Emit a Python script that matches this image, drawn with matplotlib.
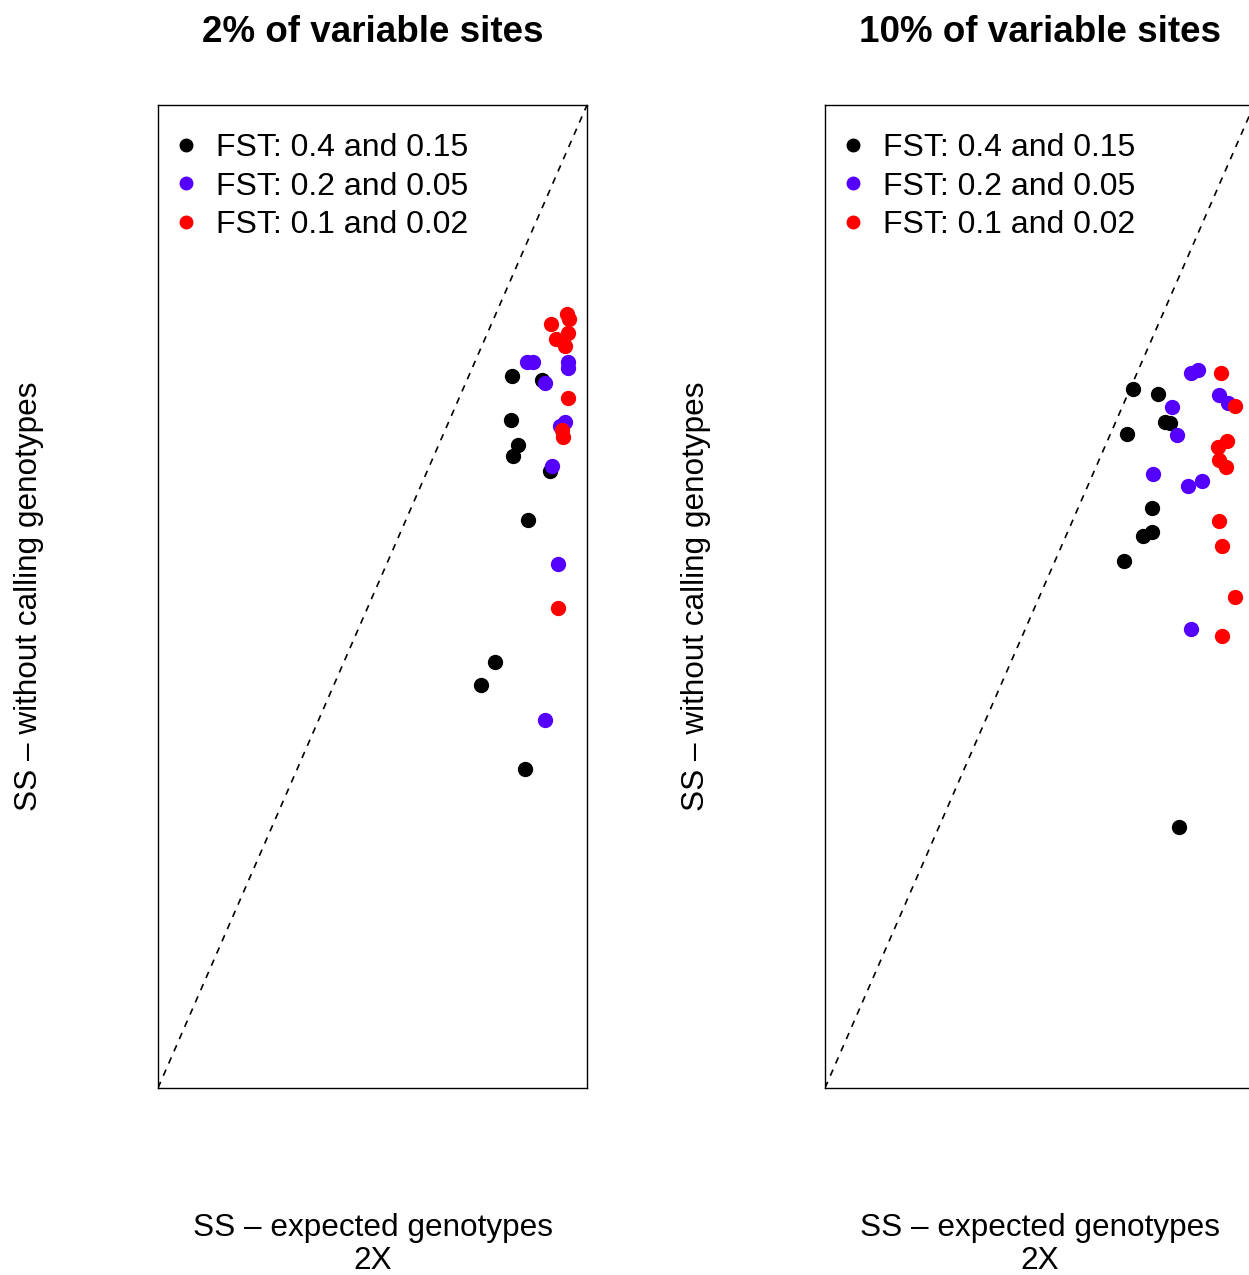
import numpy as np
import matplotlib.pyplot as plt

plt.rcParams['font.family'] = ['Liberation Sans', 'DejaVu Sans']

# Values (arbitrary units, same scale on both axes)
labels = ['FST: 0.4 and 0.15', 'FST: 0.2 and 0.05', 'FST: 0.1 and 0.02']
colors = ['black', '#5500ff', '#ff0000']
titles = ['2% of variable sites', '10% of variable sites']

# 2% panel
p2_black_x = [0.825, 0.894, 0.823, 0.838, 0.828, 0.914, 0.863, 0.786, 0.752, 0.856]
p2_black_y = [0.724, 0.720, 0.679, 0.654, 0.643, 0.628, 0.578, 0.433, 0.410, 0.324]
p2_purple_x = [0.859, 0.874, 0.956, 0.956, 0.902, 0.949, 0.937, 0.918, 0.932, 0.901]
p2_purple_y = [0.738, 0.739, 0.738, 0.732, 0.717, 0.677, 0.673, 0.633, 0.533, 0.374]
p2_red_x = [0.953, 0.958, 0.915, 0.956, 0.928, 0.949, 0.956, 0.941, 0.944, 0.932]
p2_red_y = [0.787, 0.782, 0.777, 0.768, 0.762, 0.755, 0.702, 0.669, 0.662, 0.488]

# 10% panel
p10_black_x = [0.719, 0.777, 0.793, 0.804, 0.703, 0.762, 0.763, 0.741, 0.697, 0.825]
p10_black_y = [0.711, 0.706, 0.677, 0.676, 0.665, 0.590, 0.566, 0.561, 0.536, 0.265]
p10_purple_x = [0.852, 0.869, 0.808, 0.919, 0.939, 0.820, 0.765, 0.847, 0.879, 0.852]
p10_purple_y = [0.727, 0.730, 0.693, 0.705, 0.697, 0.664, 0.625, 0.612, 0.617, 0.467]
p10_red_x = [0.922, 0.956, 0.938, 0.915, 0.919, 0.934, 0.919, 0.925, 0.955, 0.926]
p10_red_y = [0.727, 0.694, 0.658, 0.652, 0.639, 0.632, 0.577, 0.551, 0.499, 0.460]

panels = [
    [(p2_black_x, p2_black_y), (p2_purple_x, p2_purple_y), (p2_red_x, p2_red_y)],
    [(p10_black_x, p10_black_y), (p10_purple_x, p10_purple_y), (p10_red_x, p10_red_y)],
]

fig = plt.figure(figsize=(12.49, 12.75), dpi=100)
lefts = [158 / 1249, 825 / 1249]

for i, series in enumerate(panels):
    ax = fig.add_axes([lefts[i], 0.1467, 0.3435, 0.771])
    ax.set_xlim(0, 1)
    ax.set_ylim(0, 1)
    ax.plot([0, 1], [0, 1], color='black', linestyle=(0, (4, 4)), linewidth=1.2)
    for (x, y), c, lab in zip(series, colors, labels):
        ax.plot(x, y, 'o', color=c, markersize=10, linestyle='none', label=lab)
    ax.set_xticks([])
    ax.set_yticks([])
    for s in ax.spines.values():
        s.set_linewidth(1.0)
    ax.set_title(titles[i], fontsize=26.5, fontweight='bold', pad=45)
    ax.set_xlabel('SS \u2013 expected genotypes\n2X', fontsize=22.7, labelpad=90,
                  linespacing=1.13)
    ax.set_ylabel('SS \u2013 without calling genotypes', fontsize=22.7, labelpad=82)
    ax.legend(loc='upper left', bbox_to_anchor=(0.035, 0.9715), frameon=False,
              fontsize=23, markerscale=0.9, handlelength=0.8, handletextpad=0.55,
              labelspacing=0.27, borderaxespad=0, borderpad=0)

plt.savefig('out.png', dpi=100)
